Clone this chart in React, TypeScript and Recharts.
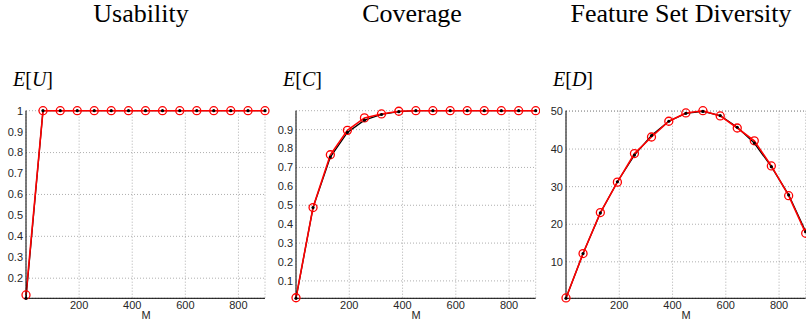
import { LineChart, Line, XAxis, YAxis, CartesianGrid } from 'recharts';

// M values (x axis), shared by all three panels
const M_VALUES = [0, 64, 129, 193, 257, 321, 386, 450, 514, 579, 643, 707, 771, 836, 900];
const X_TICKS = [200, 400, 600, 800];

// black = simulated, red = expected
const USABILITY_SIM = [0.104, 1, 1, 1, 1, 1, 1, 1, 1, 1, 1, 1, 1, 1, 1];
const USABILITY_EXP = [0.12, 1, 1, 1, 1, 1, 1, 1, 1, 1, 1, 1, 1, 1, 1];
const USABILITY_TICKS = [0.2, 0.3, 0.4, 0.5, 0.6, 0.7, 0.8, 0.9, 1];

const COVERAGE_SIM = [0.008, 0.488, 0.755, 0.885, 0.95, 0.98, 0.995, 1, 1, 1, 1, 1, 1, 1, 1];
const COVERAGE_EXP = [0.011, 0.488, 0.767, 0.896, 0.962, 0.983, 0.997, 1, 1, 1, 1, 1, 1, 1, 1];
const COVERAGE_TICKS = [0.1, 0.2, 0.3, 0.4, 0.5, 0.6, 0.7, 0.8, 0.9];

const DIVERSITY_SIM = [0.3, 12.2, 23.0, 31.3, 38.4, 43.6, 47.4, 49.5, 50.0, 48.9, 45.8, 41.6, 35.3, 27.8, 18.0];
const DIVERSITY_EXP = [0.4, 12.2, 23.1, 31.2, 38.8, 43.2, 47.4, 49.6, 50.2, 48.8, 45.6, 42.2, 35.5, 27.6, 17.6];
const DIVERSITY_TICKS = [10, 20, 30, 40, 50];

const TITLES = ['Usability', 'Coverage', 'Feature Set Diversity'];
const Y_LABELS = ['U', 'C', 'D'];

interface PanelProps {
  left: number;
  width: number;
  rightMargin: number;
  sim: number[];
  exp: number[];
  yTicks: number[];
  yDomain: [number, number];
}

const tickStyle = { fontFamily: '"Liberation Sans", Arial, sans-serif', fontSize: 11, fill: '#262626' };

function Panel({ left, width, rightMargin, sim, exp, yTicks, yDomain }: PanelProps) {
  const rows = M_VALUES.map((m, i) => ({ m, sim: sim[i], exp: exp[i] }));
  return (
    <div style={{ position: 'absolute', left, top: 0 }}>
      <LineChart width={width} height={321} data={rows} margin={{ top: 110.7, right: rightMargin, left: 0, bottom: 0 }}>
        <CartesianGrid stroke="#9a9a9a" strokeDasharray="1 2" strokeWidth={0.8} />
        <XAxis
          dataKey="m"
          type="number"
          domain={[0, 900]}
          ticks={X_TICKS}
          height={22.7}
          tickLine={false}
          tickSize={0}
          tickMargin={3}
          axisLine={{ stroke: '#000', strokeWidth: 1 }}
          tick={tickStyle}
        />
        <YAxis
          type="number"
          domain={yDomain}
          ticks={yTicks}
          width={26}
          tickLine={false}
          tickSize={0}
          tickMargin={3}
          axisLine={{ stroke: '#000', strokeWidth: 1 }}
          tick={tickStyle}
        />
        <Line type="linear" dataKey="sim" stroke="#000" strokeWidth={1.3} dot={false} isAnimationActive={false} />
        <Line
          type="linear"
          dataKey="exp"
          stroke="#ff0000"
          strokeWidth={1.6}
          dot={{ r: 4, stroke: '#ff0000', strokeWidth: 1.3, fill: 'none' }}
          isAnimationActive={false}
        />
        <Line
          type="linear"
          dataKey="sim"
          stroke="none"
          dot={{ r: 1.6, fill: '#000', stroke: 'none' }}
          isAnimationActive={false}
        />
      </LineChart>
    </div>
  );
}

export default function App() {
  const plotCenters = [141, 412, 681];
  const yLabelX = [13, 283, 553];
  const mCenters = [146, 416, 686];
  return (
    <div style={{ position: 'absolute', left: 0, top: 0, width: 806, height: 321, background: '#fff', overflow: 'hidden' }}>
      <Panel left={0} width={270} rightMargin={5} sim={USABILITY_SIM} exp={USABILITY_EXP} yTicks={USABILITY_TICKS} yDomain={[0.104, 1]} />
      <Panel left={270} width={270} rightMargin={4.3} sim={COVERAGE_SIM} exp={COVERAGE_EXP} yTicks={COVERAGE_TICKS} yDomain={[0.008, 1]} />
      <Panel left={540} width={266} rightMargin={0.3} sim={DIVERSITY_SIM} exp={DIVERSITY_EXP} yTicks={DIVERSITY_TICKS} yDomain={[0.3, 50.2]} />
      <svg width={806} height={321} style={{ position: 'absolute', left: 0, top: 0, pointerEvents: 'none' }}>
        {TITLES.map((t, i) => (
          <text key={t} x={plotCenters[i]} y={22} textAnchor="middle" fontFamily='"Liberation Serif", serif' fontSize={26} fill="#000">
            {t}
          </text>
        ))}
        {Y_LABELS.map((l, i) => (
          <text key={l} x={yLabelX[i]} y={86} fontFamily='"Liberation Serif", serif' fontSize={20} fill="#000">
            <tspan fontStyle="italic">E</tspan>
            <tspan>[</tspan>
            <tspan fontStyle="italic">{l}</tspan>
            <tspan>]</tspan>
          </text>
        ))}
        {mCenters.map((x, i) => (
          <text key={i} x={x} y={318.5} textAnchor="middle" fontFamily='"Liberation Sans", Arial, sans-serif' fontSize={11} fill="#262626">
            M
          </text>
        ))}
      </svg>
    </div>
  );
}
